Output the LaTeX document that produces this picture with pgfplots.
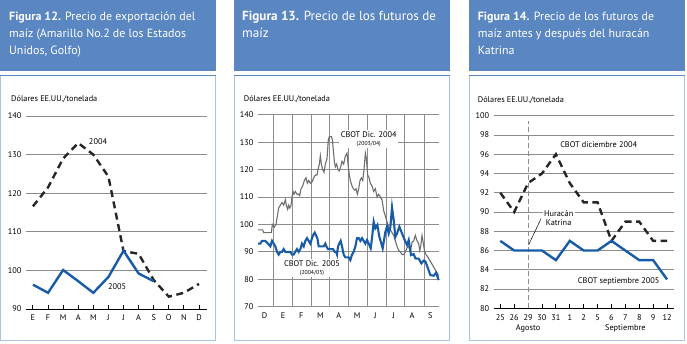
\documentclass[border=0pt]{standalone}
\usepackage{fontspec}
\setmainfont{PT Sans}
\usepackage{pgfplots}
\pgfplotsset{compat=1.18}
\definecolor{titleblue}{RGB}{90,135,193}
\definecolor{frameblue}{RGB}{170,196,228}
\definecolor{lineblue}{RGB}{24,92,168}
\definecolor{gridgray}{RGB}{140,140,140}
\definecolor{dgray}{RGB}{110,110,110}
\newcommand{\tfont}{\fontsize{12}{14}\selectfont}
\newcommand{\lfont}{\fontsize{8.3}{10}\selectfont}
\newcommand{\sfont}{\fontsize{5.8}{7}\selectfont}
\pgfplotsset{
  base/.style={
    scale only axis, clip=false,
    /pgf/number format/assume math mode=true,
    axis x line*=bottom, axis y line*=left,
    y axis line style={draw=none},
    x axis line style={black, line width=0.8bp},
    ytick style={draw=none},
    ymajorgrids,
    grid style={gridgray, line width=0.7bp},
    tick label style={font=\lfont},
    xtick style={black, line width=0.9bp},
    major tick length=4bp, tick align=inside,
    xticklabel style={yshift=-2.5bp},
    yticklabel style={xshift=-1bp},
  }
}
\begin{document}
\begin{tikzpicture}[x=1bp,y=1bp]
\path[use as bounding box] (0,0) rectangle (687,343);
% ---------- frames
\foreach \xa/\xb in {0/216, 234/450, 469/685}{
  \fill[titleblue] (\xa,272) rectangle (\xb,343);
  \draw[frameblue, line width=1.3bp] (\xa+0.7,267.5) -- (\xa+0.7,2.5) -- (\xb-0.7,2.5) -- (\xb-0.7,267.5);
  \draw[titleblue, line width=1.8bp] (\xa,267.5) -- (\xb,267.5);
}
% ---------- titles
\node[anchor=base west, white, inner sep=0, font=\tfont] at (9,322.3) {\textbf{Figura 12.} Precio de exportación del};
\node[anchor=base west, white, inner sep=0, font=\tfont] at (9,305.3) {maíz (Amarillo No.2 de los Estados};
\node[anchor=base west, white, inner sep=0, font=\tfont] at (9,288.3) {Unidos, Golfo)};
\node[anchor=base west, white, inner sep=0, font=\fontsize{13.2}{15}\selectfont] at (242,322.3) {\textbf{Figura 13.} Precio de los futuros de};
\node[anchor=base west, white, inner sep=0, font=\fontsize{13.2}{15}\selectfont] at (242,305.5) {maíz};
\node[anchor=base west, white, inner sep=0, font=\tfont] at (477.7,323) {\textbf{Figura 14.} Precio de los futuros de};
\node[anchor=base west, white, inner sep=0, font=\tfont] at (477.7,305.7) {maíz antes y después del huracán};
\node[anchor=base west, white, inner sep=0, font=\tfont] at (477.7,289) {Katrina};
% ---------- y unit labels
\node[anchor=base west, inner sep=0, font=\lfont] at (11,241.3) {Dólares EE.UU./tonelada};
\node[anchor=base west, inner sep=0, font=\lfont] at (243.7,241.3) {Dólares EE.UU./tonelada};
\node[anchor=base west, inner sep=0, font=\lfont] at (477.7,240.7) {Dólares EE.UU./tonelada};

% ========== Panel 1
\begin{axis}[base, at={(26bp,34bp)}, anchor=south west, width=181bp, height=193bp,
  xmin=-0.46, xmax=11.53, ymin=90, ymax=140, ytick={90,100,...,140},
  xtick={0,...,11}, xticklabels={E,F,M,A,M,J,J,A,S,O,N,D}]
\addplot[black!85, line width=2.4bp, dash pattern=on 7bp off 4.5bp] coordinates {
 (0,116.6) (1,121.5) (2,129) (3,133) (4,130) (5,124.3) (6,105) (7,104.3) (8,97.5) (9,93.2) (10,94.2) (11,96.5)};
\addplot[lineblue, line width=2.4bp] coordinates {
 (0,96.3) (1,94.2) (2,100.1) (3,97.2) (4,94.2) (5,98.3) (6,105.1) (7,99.2) (8,97.2)};
\node[font=\lfont] at (axis cs:4.31,133.3) {2004};
\node[font=\lfont] at (axis cs:5.57,95.7) {2005};
\end{axis}

% ========== Panel 2
\begin{axis}[base, at={(258bp,36.3bp)}, anchor=south west, width=180.7bp, height=192bp,
  xmin=78, xmax=620, ymin=70, ymax=140, ytick={70,80,...,140},
  x axis line style={gridgray, line width=0.7bp},
  grid style={gridgray, line width=0.7bp},
  xtick={98,153,208,265,320,375,430,485,540,595},
  xticklabels={D,E,F,M,A,M,J,J,A,S},
  xtick style={draw=none},
  extra x ticks={125,182,238,293,350,405,462,518,578},
  extra x tick labels={},
  extra x tick style={xmajorgrids=true, tick style={gridgray, line width=0.7bp, draw=gridgray}, tick align=outside, major tick length=5bp}]
\node[fill=white, inner sep=1.5bp, align=center, font=\lfont] at (axis cs:410,131.1) {CBOT Dic. 2004\\[-2pt]{\sfont (2003/04)}};
\node[fill=white, inner sep=1.5bp, align=center, font=\lfont] at (axis cs:240,84.1) {CBOT Dic. 2005\\[-2pt]{\sfont (2004/05)}};
\addplot[dgray, line width=1.1bp] coordinates {
(78,98)(92,98)(95,97)(118,97)(121,100)(127,99)(132,100)(136,103)(140,106)(145,107)(150,108)(155,107)(160,109)(163,107)(167,105.5)(170,107)(173,106)(177,107)(180,110)(183,112)(186,111)(190,112)(195,111)(200,111)(203,110.5)(207,113)(212,114)(217,116)(222,117)(226,115)(230,116)(235,115)(240,115.5)(245,117)(250,118)(255,118)(258,120)(262,122)(265,125)(268,122)(272,120)(276,119)(280,122)(285,124)(289,131)(292,132)(298,132)(301,131)(304,127)(307,123)(310,121)(314,122)(318,120)(322,119.5)(326,121)(330,123)(335,122)(340,125)(345,126)(348,122)(352,118)(355,116)(360,114)(364,113)(368,112.5)(372,113)(376,111)(380,113)(384,116)(388,117)(392,116)(396,120)(400,126)(403,124)(407,118)(411,117)(415,115)(420,114)(425,112)(430,113)(435,110)(440,111)(445,110)(450,109)(455,105)(460,103)(465,101)(470,99)(475,98)(480,97)(485,96)(490,94)(495,92)(500,90.5)(505,90)(510,89)(515,89)(520,90)(525,91.5)(530,92)(535,90)(540,93.5)(545,94)(550,96)(555,94)(560,93)(563,90.5)(566,92)(570,96)(574,93)(578,90)(582,89)(588,88)(595,86.5)(600,85.5)(607,84)(612,83)(617,82)(620,81)};
\addplot[lineblue, line width=2.1bp] coordinates {
(78,93)(85,93)(90,94)(100,94)(108,93)(115,92)(120,94)(125,93)(130,92)(135,90)(140,89)(145,90)(150,90)(155,91)(160,90)(165,90)(170,90)(175,90)(180,89)(185,89)(190,90)(195,91)(200,90)(205,91)(210,93)(215,92)(220,94)(225,95)(230,94)(235,93)(240,95)(243,96)(248,97)(252,96)(256,95)(260,92)(265,92)(270,92)(275,92)(280,93)(283,92)(288,91)(293,91)(298,91)(303,91)(308,90)(312,90)(315,89)(318,92)(322,93)(326,94)(330,92)(335,89)(340,88)(345,88)(350,88)(355,87)(360,89)(365,90)(370,92)(375,95)(380,95)(385,94)(390,95)(395,94)(400,93)(405,94.3)(410,93)(416,91.3)(420,95)(425,101)(430,98.6)(436,99.8)(442,95.5)(452,91.3)(460,97.3)(465,99.2)(470,96.7)(475,99)(480,106.2)(485,101.6)(490,95.5)(495,96.7)(502,99.2)(510,96.7)(518,94.3)(525,92.5)(530,94.3)(537,88.8)(545,89.2)(550,87.6)(560,87.5)(568,85.8)(575,86.8)(580,86.5)(586,84.6)(595,81.5)(605,81.3)(612,82.4)(620,79.7)};
\end{axis}

% ========== Panel 3
\begin{axis}[base, at={(493.7bp,34.7bp)}, anchor=south west, width=180bp, height=192.6bp,
  xmin=-0.475, xmax=12.48, ymin=80, ymax=100, ytick={80,82,...,100},
  xtick={0,...,12}, xticklabels={25,26,29,30,31,1,2,5,6,7,8,9,12}]
\draw[gridgray, line width=0.9bp, dash pattern=on 5bp off 3bp] (axis cs:2,80) -- (axis cs:2,99.4);
\node[fill=white, inner sep=1.5bp, align=center, font=\lfont] at (axis cs:4.2,89.4) {Huracán\\[-1pt]Katrina};
\draw[black, line width=0.5bp] (axis cs:2.93,89.3) -- (axis cs:2.04,86.6);
\addplot[black!85, line width=2.4bp, dash pattern=on 7bp off 4.5bp] coordinates {
 (0,92) (1,90) (2,93) (3,94) (4,96) (5,93) (6,91) (7,91) (8,87) (9,89) (10,89) (11,87) (12,87)};
\addplot[lineblue, line width=2.4bp] coordinates {
 (0,87) (1,86) (2,86) (3,86) (4,85) (5,87) (6,86) (7,86) (8,87) (9,86) (10,85) (11,85) (12,83)};
\node[font=\lfont] at (axis cs:7.08,96.96) {CBOT diciembre 2004};
\node[font=\lfont] at (axis cs:8.52,82.76) {CBOT septiembre 2005};
\node[font=\lfont] at (axis cs:2,77.9) {Agosto};
\node[font=\lfont] at (axis cs:9,77.9) {Septiembre};
\end{axis}
\end{tikzpicture}
\end{document}
